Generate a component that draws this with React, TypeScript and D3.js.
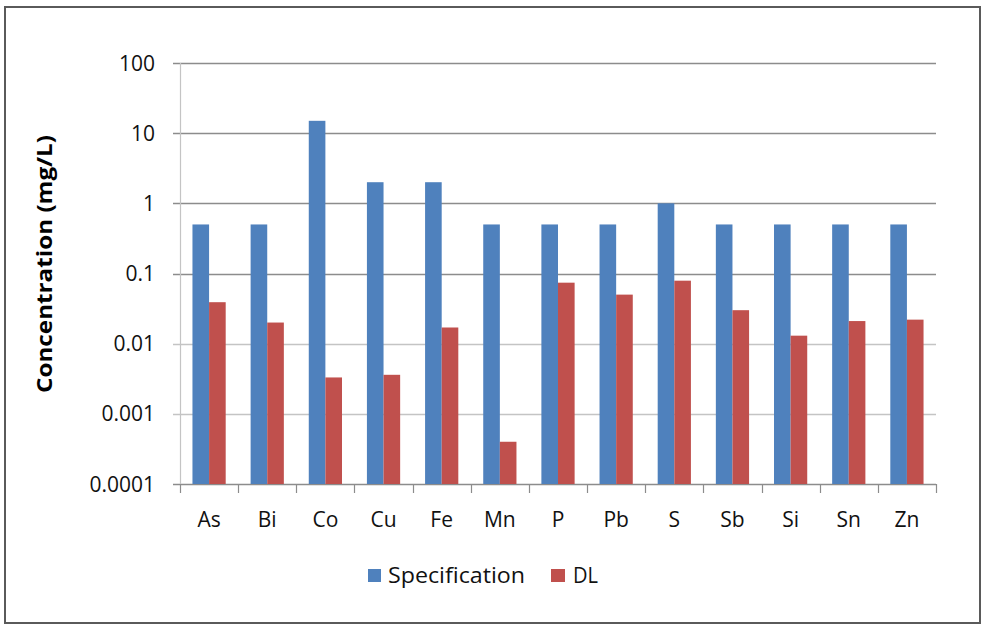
import React from "react";
import * as d3 from "d3";

const categories = ["As", "Bi", "Co", "Cu", "Fe", "Mn", "P", "Pb", "S", "Sb", "Si", "Sn", "Zn"];
const specification = [0.5, 0.5, 15, 2, 2, 0.5, 0.5, 0.5, 1, 0.5, 0.5, 0.5, 0.5];
const dl = [0.039, 0.02, 0.0033, 0.0036, 0.017, 0.0004, 0.074, 0.05, 0.079, 0.03, 0.013, 0.021, 0.022];
const yTicks = [100, 10, 1, 0.1, 0.01, 0.001, 0.0001];
const yTickLabels = ["100", "10", "1", "0.1", "0.01", "0.001", "0.0001"];
const seriesNames = ["Specification", "DL"];
const seriesColors = ["#4f81bd", "#c0504d"];

const W = 988;
const H = 627;
const left = 180;
const right = 936;
const top = 63;
const bottom = 484;
const FONT = "'Open Sans', 'Noto Sans', sans-serif";

export default function App() {
  const x = d3.scaleBand<string>().domain(categories).range([left, right]).padding(0);
  const inner = d3
    .scaleBand<string>()
    .domain(seriesNames)
    .range([0, x.bandwidth()])
    .paddingInner(0)
    .paddingOuter(0.75);
  const y = d3.scaleLog().domain([0.0001, 100]).range([bottom, top]);
  const data = [specification, dl];

  return (
    <div style={{ position: "absolute", left: 0, top: 0, width: W, height: H, background: "#fff" }}>
      <svg width={W} height={H} style={{ display: "block" }}>
        <rect x={0} y={0} width={W} height={H} fill="#fff" />
        <rect x={5} y={7} width={975} height={616} fill="none" stroke="#5a5a5a" strokeWidth={2} />
        {/* gridlines */}
        {yTicks.map((t, i) => (
          <line
            key={"g" + i}
            x1={left - 7}
            x2={right}
            y1={Math.round(y(t)) + 0.5}
            y2={Math.round(y(t)) + 0.5}
            stroke={t === 0.01 || t === 0.001 ? "#c4c4c4" : "#8c8c8c"}
            strokeWidth={1.3}
          />
        ))}
        {/* y axis line */}
        <line x1={left + 0.5} x2={left + 0.5} y1={top} y2={bottom} stroke="#c4c4c4" strokeWidth={1.2} />
        {/* bars */}
        {data.map((vals, si) =>
          vals.map((v, ci) => (
            <rect
              key={`b${si}-${ci}`}
              x={(x(categories[ci]) as number) + (inner(seriesNames[si]) as number)}
              y={y(v)}
              width={inner.bandwidth()}
              height={y(0.0001) - y(v)}
              fill={seriesColors[si]}
            />
          ))
        )}
        {/* x axis ticks */}
        {d3.range(categories.length + 1).map((i) => {
          const xx = Math.round(left + i * x.step()) + 0.5;
          return <line key={"t" + i} x1={xx} x2={xx} y1={bottom} y2={bottom + 9} stroke="#8c8c8c" strokeWidth={1.2} />;
        })}
        {/* y tick labels */}
        {yTicks.map((t, i) => (
          <text
            key={"yl" + i}
            x={155}
            y={y(t)}
            dy="0.36em"
            textAnchor="end"
            fontFamily={FONT}
            fontSize={21}
            fill="#111"
          >
            {yTickLabels[i]}
          </text>
        ))}
        {/* x labels */}
        {categories.map((c) => (
          <text
            key={"xl" + c}
            x={(x(c) as number) + x.bandwidth() / 2}
            y={527}
            textAnchor="middle"
            fontFamily={FONT}
            fontSize={21}
            fill="#111"
          >
            {c}
          </text>
        ))}
        {/* y title */}
        <text
          transform={`translate(52,264) rotate(-90)`}
          textAnchor="middle"
          fontFamily={FONT}
          fontSize={21}
          fontWeight="bold"
          fill="#000"
          textLength={258}
          lengthAdjust="spacingAndGlyphs"
        >
          Concentration (mg/L)
        </text>
        {/* legend */}
        <rect x={368} y={569} width={13} height={13} fill={seriesColors[0]} />
        <text x={388} y={583} fontFamily={FONT} fontSize={22} fill="#111" textLength={137} lengthAdjust="spacingAndGlyphs">
          {seriesNames[0]}
        </text>
        <rect x={551} y={569} width={14} height={13} fill={seriesColors[1]} />
        <text x={573} y={583} fontFamily={FONT} fontSize={22} fill="#111" textLength={25} lengthAdjust="spacingAndGlyphs">
          {seriesNames[1]}
        </text>
      </svg>
    </div>
  );
}
